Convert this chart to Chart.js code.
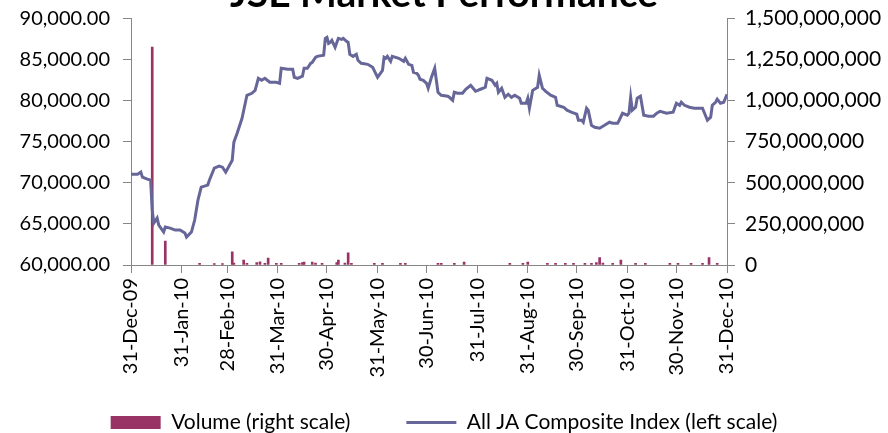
<!DOCTYPE html>
<html>
<head>
<meta charset="utf-8">
<script src="https://cdn.jsdelivr.net/npm/chart.js@4.4.1/dist/chart.umd.min.js"></script>
<style>
  html, body { margin: 0; padding: 0; background: #fff; overflow: hidden; }
  #wrap { position: absolute; left: 0; top: -22px; width: 888px; height: 465px; }
</style>
</head>
<body>
<div id="wrap"><canvas id="myChart" width="888" height="465"></canvas></div>
<script>
// days counted from 31-Dec-09
const tickDays = [0, 31, 59, 90, 120, 151, 181, 212, 243, 273, 304, 334, 365];
const tickLabels = ['31-Dec-09', '31-Jan-10', '28-Feb-10', '31-Mar-10', '30-Apr-10', '31-May-10',
    '30-Jun-10', '31-Jul-10', '31-Aug-10', '30-Sep-10', '31-Oct-10', '30-Nov-10', '31-Dec-10'];

const indexDays = [0, 4, 6, 7, 10, 12, 13, 14, 16, 17, 20, 21, 24, 27, 30, 33, 34, 37, 39, 41,
    43, 47, 48, 51, 54, 56, 58, 62, 63, 65, 68, 71, 74, 76, 78, 80, 82, 85, 89, 91,
    92, 96, 99, 100, 102, 105, 106, 108, 110, 111, 113, 114, 118, 119, 120, 121, 122, 123, 125, 127,
    129, 130, 132, 133, 134, 136, 138, 139, 141, 145, 148, 151, 154, 155, 156, 157, 159, 160, 164, 167,
    168, 170, 172, 173, 175, 176, 177, 179, 181, 182, 184, 186, 187, 188, 190, 194, 195, 197, 198, 200,
    203, 205, 208, 209, 211, 214, 217, 218, 221, 223, 224, 225, 227, 229, 231, 233, 235, 238, 239, 242,
    243, 244, 246, 249, 250, 252, 254, 257, 260, 261, 265, 267, 270, 273, 274, 276, 277, 279, 280, 282,
    284, 287, 290, 293, 295, 298, 299, 301, 304, 305, 306, 307, 309, 310, 312, 314, 317, 320, 322, 324,
    328, 332, 334, 336, 337, 339, 342, 345, 350, 351, 353, 355, 356, 358, 359, 361, 363, 365];
const indexValues = [71050, 71050, 71300, 70690, 70440, 70320, 66680, 65100, 65710, 64860, 64010, 64610, 64490, 64250, 64250, 63890, 63400, 64010, 65470, 67890,
    69470, 69720, 70320, 71780, 72020, 71900, 71300, 72750, 74940, 76030, 77850, 80650, 80890, 81250, 82710, 82470, 82710, 82230, 82230, 82100,
    83930, 83810, 83810, 82830, 82710, 82960, 83930, 83930, 84530, 84650, 85260, 85380, 85510, 87570, 87690, 86960, 87080, 87330, 86480, 87570,
    87450, 87570, 87210, 87080, 85630, 85380, 85630, 84900, 84530, 84410, 84050, 82830, 83680, 85260, 85140, 85380, 84780, 85380, 85140, 84780,
    85140, 84410, 84290, 83440, 83320, 83080, 82590, 82470, 82100, 81500, 82830, 83930, 82470, 81010, 80650, 80530, 80400, 80040, 81010, 80890,
    80890, 81380, 81860, 81620, 81130, 81380, 81620, 82710, 82470, 81860, 82100, 81010, 81500, 80400, 80770, 80400, 80650, 80280, 79680, 79680,
    80280, 79070, 81250, 81620, 83080, 81500, 81130, 80650, 80400, 79430, 79190, 78830, 78580, 78340, 77610, 77610, 77370, 79070, 78830, 77000,
    76760, 76640, 77000, 77370, 77250, 77250, 77610, 78460, 78220, 78460, 80400, 78830, 79190, 80280, 80530, 78220, 78100, 78100, 78460, 78700,
    78460, 78580, 79680, 79430, 79800, 79430, 79190, 79070, 79070, 78580, 77610, 77980, 79430, 79800, 80160, 79680, 79800, 80770];

const volumeDays = [13, 21, 42, 51, 56, 62, 63, 69, 71, 77, 79, 82, 84, 89, 92, 103, 105, 106, 111, 113,
    117, 126, 127, 131, 133, 135, 149, 154, 165, 168, 188, 190, 198, 204, 232, 240, 243, 255, 260, 266,
    271, 278, 282, 285, 287, 289, 295, 300, 309, 315, 330, 335, 343, 350, 354, 359];
const volumeValues = [1325000000, 145000000, 10000000, 8000000, 8000000, 80000000, 12000000, 30000000, 10000000, 15000000,
    20000000, 10000000, 42000000, 10000000, 10000000, 10000000, 15000000, 18000000, 18000000, 12000000,
    10000000, 15000000, 30000000, 12000000, 74000000, 10000000, 10000000, 10000000, 10000000, 10000000,
    10000000, 10000000, 10000000, 18000000, 10000000, 10000000, 18000000, 10000000, 10000000, 10000000,
    10000000, 10000000, 10000000, 15000000, 45000000, 12000000, 10000000, 30000000, 10000000, 10000000,
    10000000, 10000000, 10000000, 10000000, 45000000, 10000000];

const axisColor = '#868686';
const fontFamily = 'Lato';

// the x labels hang into the legend's box, so don't clip them at the axis box
const roomForLabels = {
    id: 'roomForLabels',
    afterLayout(chart) { chart.scales.x.bottom = chart.height; }
};

new Chart(document.getElementById('myChart'), {
    type: 'bar',
    data: {
        datasets: [
            {
                type: 'bar',
                label: 'Volume (right scale)',
                data: volumeDays.map((d, i) => ({ x: d, y: volumeValues[i] })),
                backgroundColor: '#993366',
                barThickness: 2,
                yAxisID: 'y1',
                order: 1,
            },
            {
                type: 'line',
                label: 'All JA Composite Index (left scale)',
                data: indexDays.map((d, i) => ({ x: d, y: indexValues[i] })),
                borderColor: '#666699',
                backgroundColor: '#666699',
                borderWidth: 3,
                pointRadius: 0,
                tension: 0,
                yAxisID: 'y',
                order: 0,
            }
        ]
    },
    plugins: [roomForLabels],
    options: {
        responsive: false,
        animation: false,
        layout: { padding: { left: 0, right: 0, top: 0, bottom: 0 } },
        scales: {
            x: {
                type: 'linear',
                min: 0,
                max: 365,
                offset: false,
                grid: { offset: false, drawOnChartArea: false, tickLength: 8, color: axisColor },
                border: { color: axisColor },
                afterBuildTicks: (scale) => { scale.ticks = tickDays.map(v => ({ value: v })); },
                afterFit: (scale) => { scale.height = 91; },
                ticks: {
                    autoSkip: false,
                    maxRotation: 90,
                    minRotation: 90,
                    padding: 5,
                    color: '#000',
                    font: { family: fontFamily, size: 20 },
                    callback: (v) => tickLabels[tickDays.indexOf(v)],
                },
            },
            y: {
                position: 'left',
                min: 60000,
                max: 90000,
                grid: { drawOnChartArea: false, tickLength: 8, color: axisColor },
                border: { color: axisColor },
                afterFit: (scale) => { scale.width = 131; },
                ticks: {
                    stepSize: 5000,
                    padding: 13,
                    color: '#000',
                    font: { family: fontFamily, size: 20 },
                    callback: (v) => v.toLocaleString('en-US', { minimumFractionDigits: 2, maximumFractionDigits: 2 }),
                },
            },
            y1: {
                position: 'right',
                min: 0,
                max: 1500000000,
                grid: { drawOnChartArea: false, tickLength: 8, color: axisColor },
                border: { color: axisColor },
                afterFit: (scale) => { scale.width = 161; },
                ticks: {
                    stepSize: 250000000,
                    padding: 10,
                    color: '#000',
                    font: { family: fontFamily, size: 21 },
                    callback: (v) => v.toLocaleString('en-US'),
                },
            },
        },
        plugins: {
            title: {
                display: true,
                text: 'JSE Market Performance',
                color: '#000',
                font: { family: fontFamily, size: 39, weight: 'bold', lineHeight: 0.82 },
                padding: { top: 0, bottom: 8.4 },
            },
            legend: {
                position: 'bottom',
                labels: {
                    usePointStyle: true,
                    pointStyleWidth: 50,
                    boxHeight: 13,
                    padding: 56,
                    color: '#000',
                    font: { family: fontFamily, size: 21 },
                    sort: (a, b) => a.datasetIndex - b.datasetIndex,
                    generateLabels: (chart) => {
                        const items = Chart.defaults.plugins.legend.labels.generateLabels(chart);
                        items.forEach(it => { it.pointStyle = it.datasetIndex === 0 ? 'rect' : 'line'; });
                        return items;
                    },
                },
            },
            tooltip: { enabled: false },
        },
    },
});
</script>
</body>
</html>
